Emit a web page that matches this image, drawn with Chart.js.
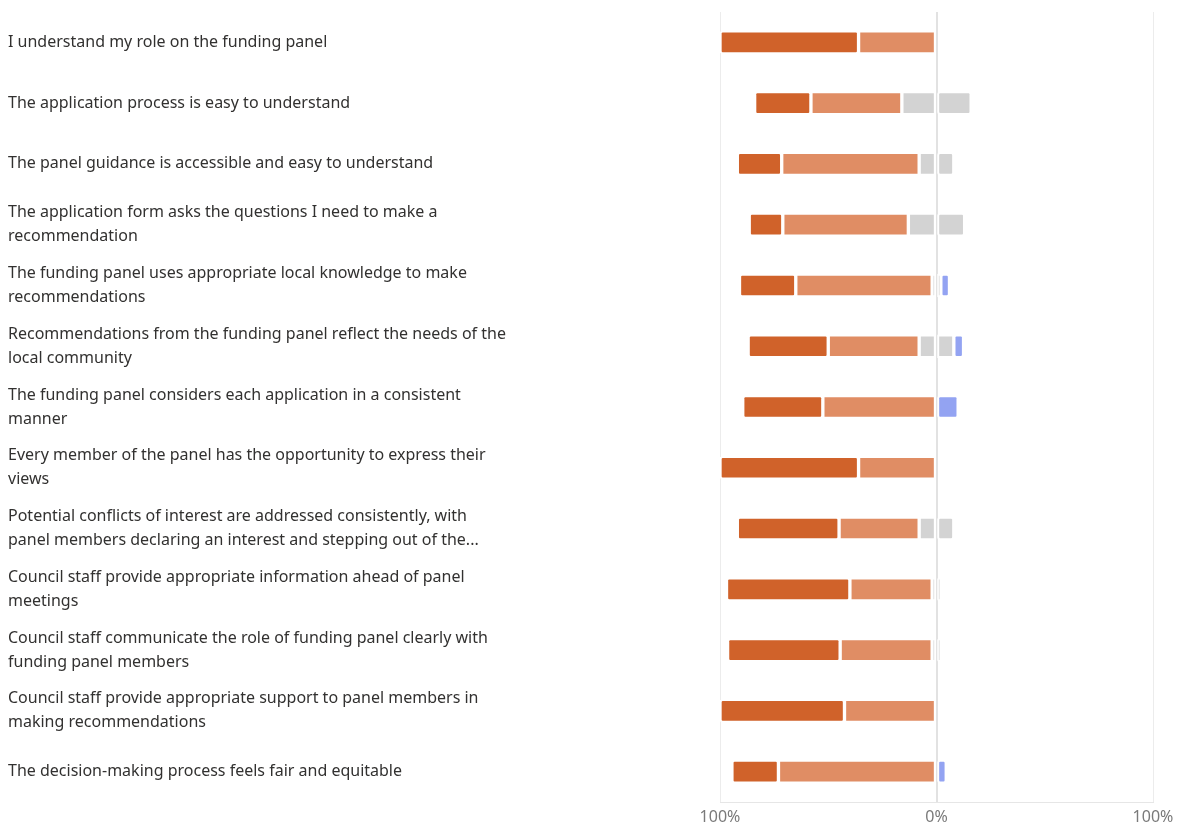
<!DOCTYPE html>
<html>
<head>
<meta charset="utf-8">
<script src="https://cdn.jsdelivr.net/npm/chart.js@4/dist/chart.umd.min.js"></script>
<style>
  html, body { margin: 0; padding: 0; background: #fff; }
  #wrap { width: 1185px; height: 825px; }
</style>
</head>
<body>
<div id="wrap"><canvas id="grafico"></canvas></div>
<script>
// Perguntas (rótulos do eixo y)
const perguntas = [
  'I understand my role on the funding panel',
  'The application process is easy to understand',
  'The panel guidance is accessible and easy to understand',
  ['The application form asks the questions I need to make a', 'recommendation'],
  ['The funding panel uses appropriate local knowledge to make', 'recommendations'],
  ['Recommendations from the funding panel reflect the needs of the', 'local community'],
  ['The funding panel considers each application in a consistent', 'manner'],
  ['Every member of the panel has the opportunity to express their', 'views'],
  ['Potential conflicts of interest are addressed consistently, with', 'panel members declaring an interest and stepping out of the...'],
  ['Council staff provide appropriate information ahead of panel', 'meetings'],
  ['Council staff communicate the role of funding panel clearly with', 'funding panel members'],
  ['Council staff provide appropriate support to panel members in', 'making recommendations'],
  'The decision-making process feels fair and equitable'
];

// Percentagens
const concordoTotalmente = [64, 26, 20.5, 15.5, 26, 37, 37, 64, 47, 57, 52, 57.5, 21.5];
const concordo           = [36, 42, 63.5, 58, 63, 42, 52.5, 36, 37, 38, 42.5, 42.5, 73];
const neutro             = [0, 32, 16, 26, 4, 16, 0, 0, 16, 4, 4, 0, 0];
const discordo           = [0, 0, 0, 0, 4, 4.5, 10, 0, 0, 0, 0, 0, 4.5];

const eixoTicks = [-100, 0, 100];

const cores = {
  forte: '#D0622A',
  concordo: '#E08D64',
  neutro: '#D3D3D3',
  discordo: '#93A3F2'
};

function barra(label, data, cor) {
  return {
    label,
    data,
    backgroundColor: cor,
    borderColor: '#ffffff',
    borderWidth: 2,
    borderSkipped: false,
    borderRadius: 3,
    barThickness: 23
  };
}

const grafico = new Chart(document.getElementById('grafico'), {
  type: 'bar',
  data: {
    labels: perguntas,
    datasets: [
      barra('Neutral', neutro.map(v => -v / 2), cores.neutro),
      barra('Agree', concordo.map(v => -v), cores.concordo),
      barra('Strongly agree', concordoTotalmente.map(v => -v), cores.forte),
      barra('Neutral', neutro.map(v => v / 2), cores.neutro),
      barra('Disagree', discordo, cores.discordo)
    ]
  },
  options: {
    indexAxis: 'y',
    responsive: true,
    maintainAspectRatio: false,
    animation: false,
    layout: { padding: { top: 12, right: 32, left: 8, bottom: 0 } },
    plugins: {
      legend: { display: false },
      tooltip: { enabled: false }
    },
    scales: {
      x: {
        stacked: true,
        min: -100,
        max: 100,
        afterBuildTicks: (scale) => {
          scale.ticks = eixoTicks.map(v => ({ value: v }));
        },
        afterFit: (scale) => { scale.height = 23; },
        ticks: {
          color: '#7a7a7a',
          font: { family: 'Noto Sans', size: 16 },
          padding: 6,
          maxRotation: 0,
          callback: (v) => Math.abs(v) + '%'
        },
        grid: {
          color: (ctx) => ctx.tick && ctx.tick.value === 0 ? '#e2e2e2' : '#ececec',
          lineWidth: (ctx) => ctx.tick && ctx.tick.value === 0 ? 2 : 1,
          drawTicks: false
        },
        border: { display: true, color: '#e6e6e6' }
      },
      y: {
        stacked: true,
        afterFit: (scale) => {
          scale.width = 712;
          scale.paddingTop = 0;
          scale.paddingBottom = 0;
        },
        ticks: {
          crossAlign: 'far',
          color: '#323130',
          autoSkip: false,
          font: { family: 'Noto Sans', size: 16, lineHeight: 1.5 }
        },
        grid: { display: false },
        border: { display: false }
      }
    }
  }
});
</script>
</body>
</html>
